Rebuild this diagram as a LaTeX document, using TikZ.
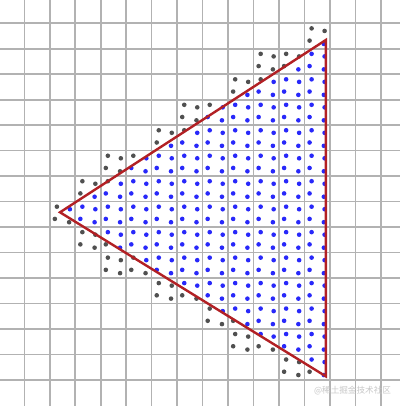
\documentclass[tikz,border=0pt]{standalone}
\usepackage{fontspec}
\newfontfamily\cjkfont{Noto Sans CJK SC}
\definecolor{gridc}{RGB}{178,178,178}
\definecolor{bluedotc}{RGB}{40,40,250}
\definecolor{graydotc}{RGB}{80,80,80}
\definecolor{tric}{RGB}{178,32,36}
\definecolor{wmc}{RGB}{200,200,200}
\tikzset{
  gridline/.style={draw=gridc, line width=1.6pt},
  bluedot/.style={fill=bluedotc},
  graydot/.style={fill=graydotc},
  triline/.style={draw=tric, line width=2.4pt, line join=miter},
  watermark/.style={text=wmc, font=\cjkfont\fontsize{8.6}{10}\selectfont, inner sep=0pt}
}
% geometry (px)
\def\gx{24.3}\def\gy{23.3}\def\cs{25.47}
\def\Ax{325.8}\def\Ay{40}
\def\Bx{60}\def\By{212.3}
\def\Cx{325.8}\def\Cy{376.3}
\pgfmathsetmacro\kone{(\By-\Ay)/(\Ax-\Bx)}
\pgfmathsetmacro\ktwo{(\Cy-\By)/(\Cx-\Bx)}
\begin{document}
\begin{tikzpicture}[x=1pt,y=-1pt]
\useasboundingbox (0,0) rectangle (400,406);
\fill[white] (0,0) rectangle (400,406);
% grid
\foreach \i in {0,...,14} {
  \draw[gridline] ({\gx+\cs*\i},0) -- ({\gx+\cs*\i},406);
  \draw[gridline] (0,{\gy+\cs*\i}) -- (400,{\gy+\cs*\i});
}
% samples
\foreach \c in {0,...,13} {
  \foreach \r in {0,...,14} {
    \pgfmathsetmacro\xa{\gx+\cs*\c}
    \pgfmathsetmacro\ya{\gy+\cs*\r}
    \pgfmathsetmacro\xb{\xa+\cs}
    \pgfmathsetmacro\yb{\ya+\cs}
    \pgfmathtruncatemacro\ov{(\xb>\Bx) && (\xa<\Cx) && (\yb>\Ay) && (\ya<\Cy) && ((\yb-\Ay-\kone*(\Ax-\xb))>0) && ((\By+\ktwo*(\xb-\Bx)-\ya)>0)}
    \ifnum\ov=1
      \foreach \ox/\oy in {0.28/0.2, 0.79/0.3, 0.2/0.68, 0.76/0.81} {
        \pgfmathsetmacro\sx{\xa+\ox*\cs}
        \pgfmathsetmacro\sy{\ya+\oy*\cs}
        \pgfmathtruncatemacro\ins{((\sy-\Ay-\kone*(\Ax-\sx))>0) && ((\By+\ktwo*(\sx-\Bx)-\sy)>0) && (\sx<\Cx)}
        \ifnum\ins=1
          \fill[bluedot] (\sx,\sy) circle[radius=2.3pt];
        \else
          \fill[graydot] (\sx,\sy) circle[radius=2.3pt];
        \fi
      }
    \fi
  }
}
% triangle
\coordinate (A) at (\Ax,\Ay);
\coordinate (B) at (\Bx,\By);
\coordinate (C) at (\Cx,\Cy);
\draw[triline] (A) -- (B) -- (C) -- cycle;
% watermark
\node[watermark] (wm) at (352.5,391) {@稀土掘金技术社区};
\end{tikzpicture}
\end{document}
